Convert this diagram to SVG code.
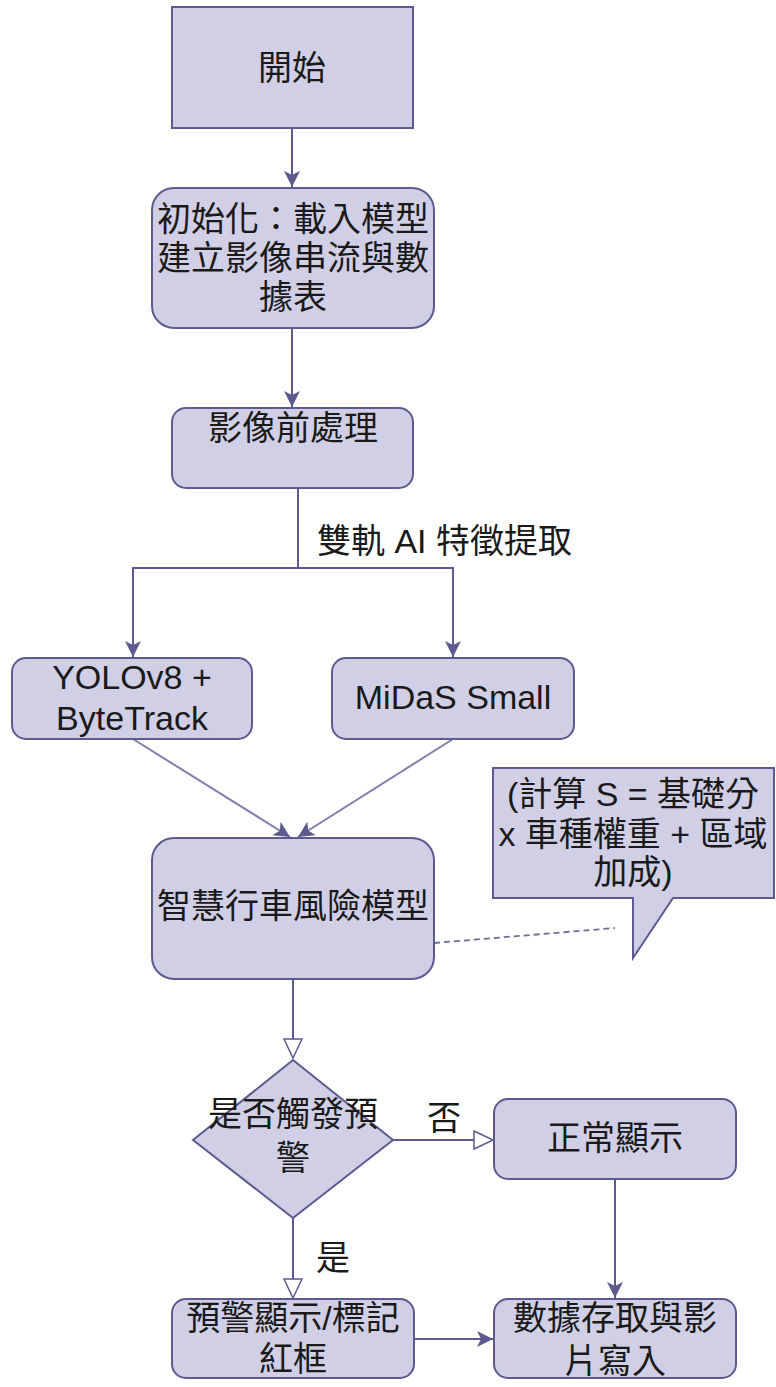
<svg xmlns="http://www.w3.org/2000/svg" width="776" height="1387" viewBox="0 0 776 1387">
<defs>
<style>
.box{fill:#d0cfe6;stroke:#5d5a8f;stroke-width:2}
.t{font-family:"Liberation Sans","Noto Sans CJK TC",sans-serif;font-size:34px;fill:#1a1a1a;text-anchor:middle}
.ts{font-family:"Liberation Sans","Noto Sans CJK TC",sans-serif;font-size:34px;fill:#1a1a1a}
.ln{fill:none;stroke:#5d5a8f;stroke-width:2}
.lnl{fill:none;stroke:#817fac;stroke-width:2}
.dash{fill:none;stroke:#6e6c9a;stroke-width:1.8;stroke-dasharray:6,4}
</style>
<marker id="fa" markerUnits="userSpaceOnUse" markerWidth="17" markerHeight="16" refX="16" refY="8" orient="auto">
<path d="M0,0 L16,8 L0,16 L4,8 z" fill="#5d5a8f"/>
</marker>
<marker id="ha" markerUnits="userSpaceOnUse" markerWidth="22" markerHeight="22" refX="20" refY="10" orient="auto">
<path d="M1,1 L20,10 L1,19 z" fill="#ffffff" stroke="#5d5a8f" stroke-width="1.5"/>
</marker>
</defs>
<rect width="776" height="1387" fill="#ffffff"/>
<g id="connectors">
<line class="ln" x1="292" y1="128" x2="292" y2="187" marker-end="url(#fa)"/>
<line class="ln" x1="292" y1="328" x2="292" y2="407" marker-end="url(#fa)"/>
<polyline class="ln" points="298,488 298,568 133,568 133,657" marker-end="url(#fa)"/>
<polyline class="ln" points="298,568 453,568 453,657" marker-end="url(#fa)"/>
<line class="lnl" x1="133" y1="739" x2="290" y2="837" marker-end="url(#fa)"/>
<line class="lnl" x1="453" y1="739" x2="298" y2="837" marker-end="url(#fa)"/>
<line class="dash" x1="434" y1="943" x2="615" y2="928"/>
<line class="ln" x1="293" y1="979" x2="293" y2="1058" marker-end="url(#ha)"/>
<line class="ln" x1="393" y1="1140" x2="493" y2="1140" marker-end="url(#ha)"/>
<line class="ln" x1="293" y1="1218" x2="293" y2="1298" marker-end="url(#ha)"/>
<line class="ln" x1="615" y1="1179" x2="615" y2="1298" marker-end="url(#fa)"/>
<line class="ln" x1="414" y1="1339" x2="493" y2="1339" marker-end="url(#fa)"/>
<text class="ts" x="317" y="553">雙軌 AI 特徵提取</text>
<text class="t" x="444" y="1130">否</text>
<text class="t" x="333" y="1270">是</text>
</g>
<g id="start">
<rect class="box" x="172" y="7" width="241" height="121"/>
<text class="t" x="292" y="80">開始</text>
</g>
<g id="init">
<rect class="box" x="152" y="188" width="282" height="140" rx="22"/>
<text class="t" x="293" y="231">初始化：載入模型</text>
<text class="t" x="293" y="270">建立影像串流與數</text>
<text class="t" x="293" y="309">據表</text>
</g>
<g id="preprocess">
<rect class="box" x="172" y="408" width="241" height="80" rx="14"/>
<text class="t" x="293" y="440">影像前處理</text>
</g>
<g id="yolo">
<rect class="box" x="12" y="658" width="240" height="81" rx="14"/>
<text class="t" x="132" y="689">YOLOv8 +</text>
<text class="t" x="132" y="730">ByteTrack</text>
</g>
<g id="midas">
<rect class="box" x="332" y="658" width="242" height="81" rx="14"/>
<text class="t" x="453" y="709">MiDaS Small</text>
</g>
<g id="risk">
<rect class="box" x="152" y="838" width="282" height="141" rx="22"/>
<text class="t" x="293" y="918">智慧行車風險模型</text>
</g>
<g id="callout">
<path class="box" d="M493,768 L774,768 L774,898 L673,898 L633,958 L633,898 L493,898 Z"/>
<text class="t" x="633" y="806">(計算 S = 基礎分</text>
<text class="t" x="633" y="846">x 車種權重 + 區域</text>
<text class="t" x="633" y="884">加成)</text>
</g>
<g id="decision">
<polygon class="box" points="293,1060 393,1140 293,1218 193,1140"/>
<text class="t" x="293" y="1126">是否觸發預</text>
<text class="t" x="293" y="1170">警</text>
</g>
<g id="normal">
<rect class="box" x="494" y="1099" width="242" height="80" rx="14"/>
<text class="t" x="615" y="1150">正常顯示</text>
</g>
<g id="alert">
<rect class="box" x="172" y="1299" width="242" height="79" rx="14"/>
<text class="t" x="293" y="1330">預警顯示/標記</text>
<text class="t" x="293" y="1371">紅框</text>
</g>
<g id="store">
<rect class="box" x="494" y="1299" width="242" height="79" rx="14"/>
<text class="t" x="615" y="1330">數據存取與影</text>
<text class="t" x="615" y="1373">片寫入</text>
</g>
</svg>
